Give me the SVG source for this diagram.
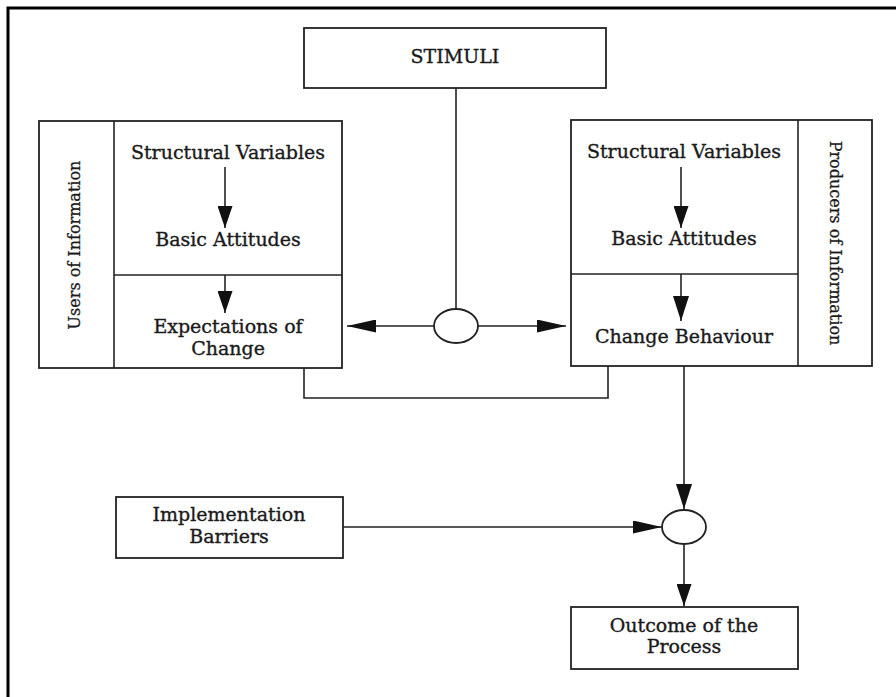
<svg xmlns="http://www.w3.org/2000/svg" width="896" height="697" viewBox="0 0 896 697">
<style>
.box{fill:#fff;stroke:#222;stroke-width:1.8}
.ln{fill:none;stroke:#222;stroke-width:1.6}
.t{font-family:"DejaVu Serif","Liberation Serif",serif;font-size:19px;fill:#1a1a1a;stroke:#1a1a1a;stroke-width:0.35;text-anchor:middle}
.v{font-family:"DejaVu Serif","Liberation Serif",serif;font-size:16px;fill:#1a1a1a;stroke:#1a1a1a;stroke-width:0.3;text-anchor:middle}
.frame{stroke:#000;stroke-width:3;fill:none}
</style>
<defs>
<marker id="aL" viewBox="0 0 29 13" markerWidth="29" markerHeight="13" refX="29" refY="6.5" orient="auto" markerUnits="userSpaceOnUse"><path d="M0,0 L29,6.5 L0,13 z" fill="#111"/></marker>
<marker id="aS" viewBox="0 0 22 15" markerWidth="22" markerHeight="15" refX="22" refY="7.5" orient="auto" markerUnits="userSpaceOnUse"><path d="M0,0 L22,7.5 L0,15 z" fill="#111"/></marker>
<marker id="aM" viewBox="0 0 25 16" markerWidth="25" markerHeight="16" refX="25" refY="8" orient="auto" markerUnits="userSpaceOnUse"><path d="M0,0 L25,8 L0,16 z" fill="#111"/></marker>
</defs>
<rect width="896" height="697" fill="#fff"/>
<path class="frame" d="M8,697 V8 H896"/>

<g id="connectors">
<line class="ln" x1="456" y1="88" x2="456" y2="309"/>
<line class="ln" x1="434" y1="326" x2="347" y2="326" marker-end="url(#aL)"/>
<line class="ln" x1="478" y1="326" x2="566" y2="326" marker-end="url(#aL)"/>
<path class="ln" d="M304,368 V398 H608 V366"/>
<line class="ln" x1="684" y1="366" x2="684" y2="509" marker-end="url(#aM)"/>
<line class="ln" x1="343" y1="527" x2="662" y2="527" marker-end="url(#aL)"/>
<line class="ln" x1="684" y1="544" x2="684" y2="606" marker-end="url(#aS)"/>
</g>

<g id="stimuli">
<rect class="box" x="304" y="28" width="302" height="60"/>
<text class="t" x="455" y="63">STIMULI</text>
</g>

<g id="users">
<rect class="box" x="39" y="121" width="303" height="247"/>
<line class="ln" x1="114" y1="121" x2="114" y2="368"/>
<line class="ln" x1="114" y1="275" x2="342" y2="275"/>
<text class="v" transform="translate(80,245) rotate(-90)">Users of Information</text>
<text class="t" x="228" y="159">Structural Variables</text>
<line class="ln" x1="225" y1="167" x2="225" y2="228" marker-end="url(#aS)"/>
<text class="t" x="228" y="246">Basic Attitudes</text>
<line class="ln" x1="225" y1="275" x2="225" y2="313" marker-end="url(#aS)"/>
<text class="t" x="228" y="333">Expectations of</text>
<text class="t" x="228" y="355">Change</text>
</g>

<g id="producers">
<rect class="box" x="571" y="120" width="301" height="246"/>
<line class="ln" x1="798" y1="120" x2="798" y2="366"/>
<line class="ln" x1="571" y1="274" x2="798" y2="274"/>
<text class="v" transform="translate(830,243) rotate(90)">Producers of Information</text>
<text class="t" x="684" y="158">Structural Variables</text>
<line class="ln" x1="681" y1="167" x2="681" y2="228" marker-end="url(#aS)"/>
<text class="t" x="684" y="245">Basic Attitudes</text>
<line class="ln" x1="681" y1="274" x2="681" y2="321" marker-end="url(#aM)"/>
<text class="t" x="684" y="343">Change Behaviour</text>
</g>

<g id="junction1">
<ellipse class="box" cx="456" cy="326" rx="22" ry="17"/>
</g>

<g id="junction2">
<ellipse class="box" cx="684" cy="527" rx="22" ry="17"/>
</g>

<g id="barriers">
<rect class="box" x="116" y="497" width="227" height="61"/>
<text class="t" x="229" y="521">Implementation</text>
<text class="t" x="229" y="543">Barriers</text>
</g>

<g id="outcome">
<rect class="box" x="571" y="607" width="227" height="62"/>
<text class="t" x="684" y="632">Outcome of the</text>
<text class="t" x="684" y="653">Process</text>
</g>
</svg>
